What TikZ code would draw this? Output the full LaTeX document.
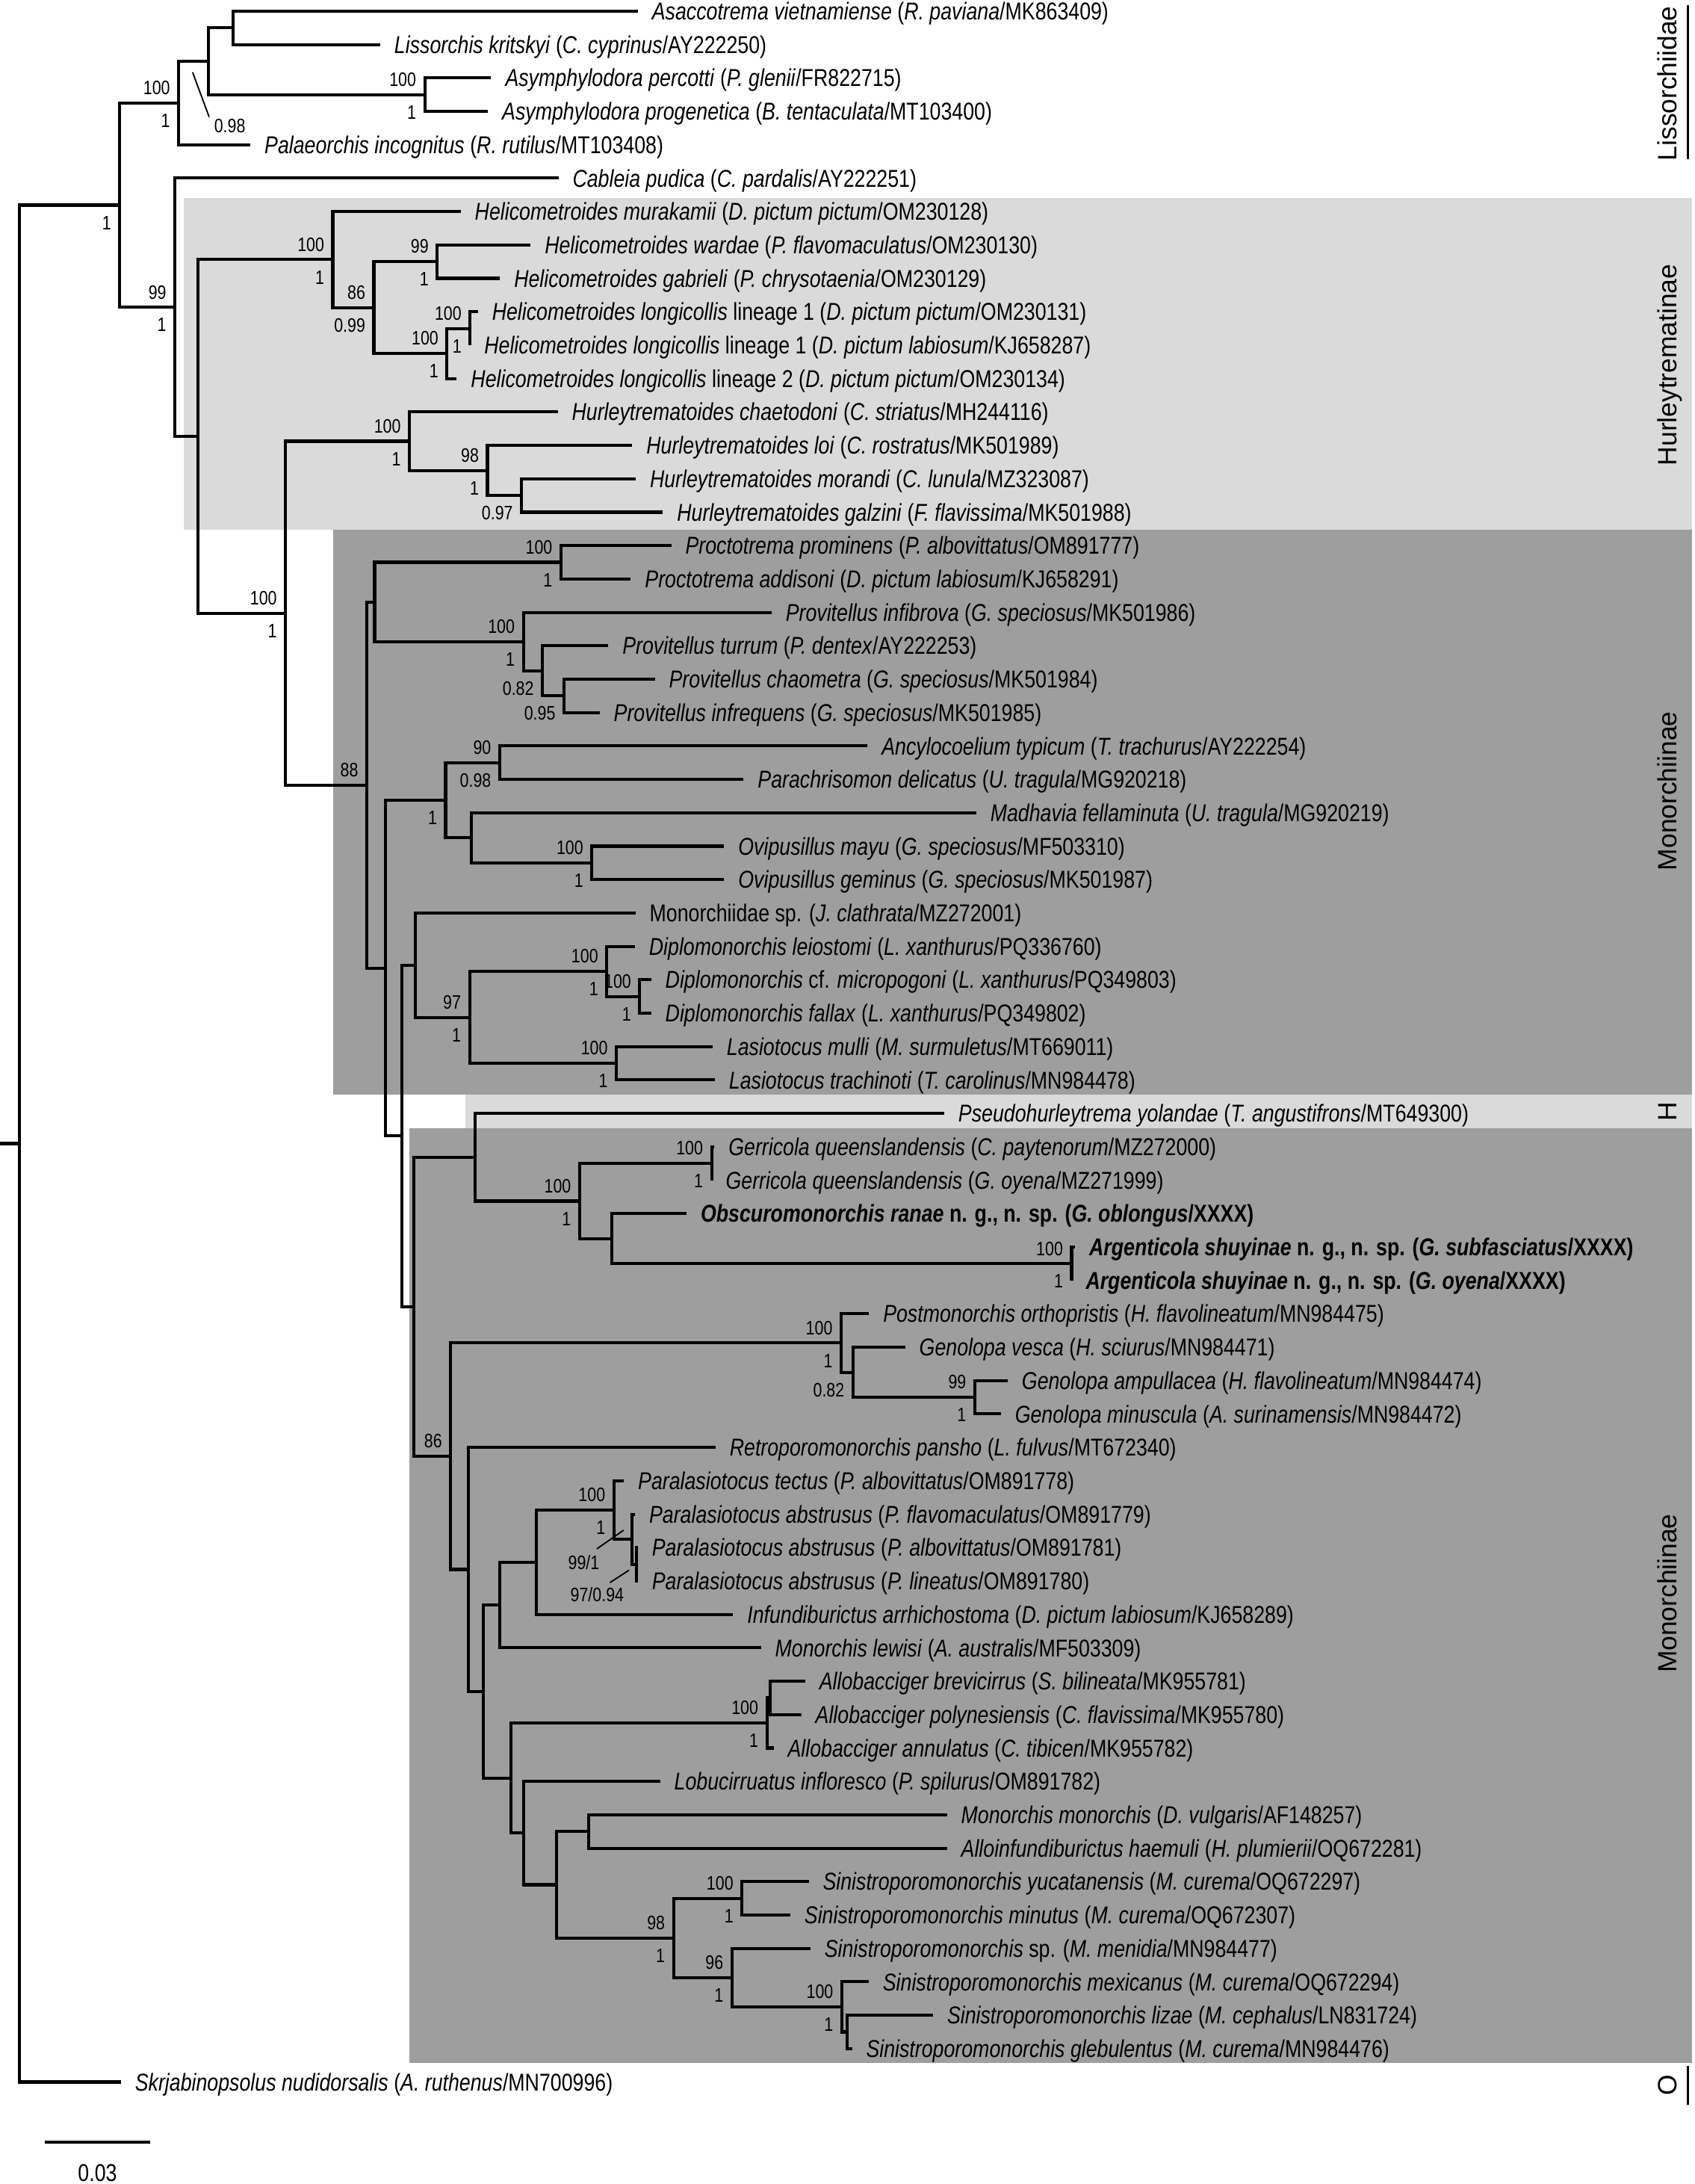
\documentclass[tikz,border=0pt]{standalone}
\usepackage{fontspec}
\setmainfont{Liberation Sans}[FakeStretch=0.82]
\newfontfamily\cladefont{Liberation Sans}
\definecolor{lightg}{RGB}{218,218,218}
\definecolor{darkg}{RGB}{158,158,158}
\begin{document}
\begin{tikzpicture}[x=1pt,y=-1pt,
  br/.style={line width=2.2pt, line join=miter},
  leaf/.style={anchor=west, inner sep=0pt, text height=12.5pt, text depth=0pt, font=\fontsize{17.5}{17.5}\selectfont},
  bs/.style={anchor=base east, inner sep=0pt, xshift=-6pt, yshift=6pt, font=\fontsize{14}{14}\selectfont},
  pp/.style={anchor=base east, inner sep=0pt, xshift=-6pt, yshift=-17.5pt, font=\fontsize{14}{14}\selectfont},
  freelab/.style={anchor=center, inner sep=0pt, font=\fontsize{14}{14}\selectfont},
  clade/.style={rotate=90, inner sep=0pt, text height=13.7pt, text depth=0pt, font=\cladefont\fontsize{19}{19}\selectfont},
  lead/.style={line width=1pt},
  cbar/.style={line width=2pt}]
\useasboundingbox (0,0) rectangle (1217,1568);
% backgrounds
\fill[lightg] (132,142) rectangle (1215,380.5);
\fill[darkg] (239.5,380.5) rectangle (1215,786);
\fill[lightg] (334,786) rectangle (1215,810);
\fill[darkg] (294,810) rectangle (1215,1481);

% internal nodes
\coordinate (nR) at (14,821);
\coordinate (root0) at (0,821);
\coordinate (nA) at (86,147.27);
\coordinate (nL) at (128.3,73.95);
\coordinate (nM1) at (149.5,43.97);
\coordinate (nN1) at (167.4,19.99);
\coordinate (nAsym) at (305,67.95);
\coordinate (nB) at (125.6,220.58);
\coordinate (nC) at (142,313.26);
\coordinate (nHel) at (239,186.35);
\coordinate (nHelA) at (268.5,220.83);
\coordinate (nHelB) at (314,187.85);
\coordinate (nHelC) at (321,253.8);
\coordinate (nHelD) at (337.6,235.81);
\coordinate (nD2) at (205,440.17);
\coordinate (nHur) at (294,316.74);
\coordinate (nHurA) at (350,337.73);
\coordinate (nHurB) at (374.5,355.71);
\coordinate (nMon1) at (263.4,563.6);
\coordinate (nMon1a) at (269,432.15);
\coordinate (nProcto) at (402.8,403.67);
\coordinate (nProvA) at (375.8,460.62);
\coordinate (nProvB) at (389.5,481.6);
\coordinate (nProvC) at (405,499.59);
\coordinate (nMonB) at (276.7,695.04);
\coordinate (nAncOv) at (320,574.53);
\coordinate (nAncPar) at (358.8,547.55);
\coordinate (nOvMad) at (338.3,601.5);
\coordinate (nOvip) at (425,619.49);
\coordinate (nE) at (288.6,815.55);
\coordinate (nDipMon) at (298.3,692.93);
\coordinate (nDipLas) at (337.2,730.4);
\coordinate (nDip) at (435.7,697.43);
\coordinate (nDipB) at (459.4,715.41);
\coordinate (nLas) at (442.6,763.37);
\coordinate (nF) at (297,938.16);
\coordinate (nPsG) at (341.3,830.82);
\coordinate (nGOA) at (416.2,862.29);
\coordinate (nGerr) at (511,835.31);
\coordinate (nOA) at (439.4,889.27);
\coordinate (nArg) at (769.5,907.25);
\coordinate (nG) at (323.6,1045.49);
\coordinate (nPG) at (604,964.2);
\coordinate (nGen) at (612.5,985.19);
\coordinate (nGenB) at (700,1003.17);
\coordinate (nH) at (336.3,1126.78);
\coordinate (nI) at (347.2,1214.41);
\coordinate (nJ) at (359,1152.3);
\coordinate (nPI) at (385.3,1121.57);
\coordinate (nPar) at (440.8,1084.1);
\coordinate (nParB) at (454,1105.09);
\coordinate (nParC) at (457,1123.07);
\coordinate (nK) at (367,1276.51);
\coordinate (nAllo) at (550.7,1236.98);
\coordinate (nAlloB) at (553.1,1218.99);
\coordinate (nL2) at (376,1316.04);
\coordinate (nM) at (399.4,1353.13);
\coordinate (nMA) at (422.6,1314.91);
\coordinate (nSin) at (483.7,1391.35);
\coordinate (nSinA) at (532.8,1362.87);
\coordinate (nSinB) at (525.6,1419.83);
\coordinate (nSinC) at (604.5,1440.81);
\coordinate (nSinD) at (608.2,1458.79);

% leaves
\node[leaf] (t1) at (468,8.0) {\textit{Asaccotrema vietnamiense} (\textit{R. paviana}/MK863409)};
\node[leaf] (t2) at (283,31.98) {\textit{Lissorchis kritskyi} (\textit{C. cyprinus}/AY222250)};
\node[leaf] (t3) at (362.7,55.96) {\textit{Asymphylodora percotti} (\textit{P. glenii}/FR822715)};
\node[leaf] (t4) at (360.4,79.94) {\textit{Asymphylodora progenetica} (\textit{B. tentaculata}/MT103400)};
\node[leaf] (t5) at (189.8,103.92) {\textit{Palaeorchis incognitus} (\textit{R. rutilus}/MT103408)};
\node[leaf] (t6) at (411,127.9) {\textit{Cableia pudica} (\textit{C. pardalis}/AY222251)};
\node[leaf] (t7) at (340.8,151.88) {\textit{Helicometroides murakamii} (\textit{D. pictum pictum}/OM230128)};
\node[leaf] (t8) at (391,175.86) {\textit{Helicometroides wardae} (\textit{P. flavomaculatus}/OM230130)};
\node[leaf] (t9) at (369,199.84) {\textit{Helicometroides gabrieli} (\textit{P. chrysotaenia}/OM230129)};
\node[leaf] (t10) at (353.2,223.82) {\textit{Helicometroides longicollis} lineage 1 (\textit{D. pictum pictum}/OM230131)};
\node[leaf] (t11) at (347.6,247.8) {\textit{Helicometroides longicollis} lineage 1 (\textit{D. pictum labiosum}/KJ658287)};
\node[leaf] (t12) at (338,271.78) {\textit{Helicometroides longicollis} lineage 2 (\textit{D. pictum pictum}/OM230134)};
\node[leaf] (t13) at (410.5,295.76) {\textit{Hurleytrematoides chaetodoni} (\textit{C. striatus}/MH244116)};
\node[leaf] (t14) at (464,319.74) {\textit{Hurleytrematoides loi} (\textit{C. rostratus}/MK501989)};
\node[leaf] (t15) at (466.5,343.72) {\textit{Hurleytrematoides morandi} (\textit{C. lunula}/MZ323087)};
\node[leaf] (t16) at (486,367.7) {\textit{Hurleytrematoides galzini} (\textit{F. flavissima}/MK501988)};
\node[leaf] (t17) at (492,391.68) {\textit{Proctotrema prominens} (\textit{P. albovittatus}/OM891777)};
\node[leaf] (t18) at (463,415.66) {\textit{Proctotrema addisoni} (\textit{D. pictum labiosum}/KJ658291)};
\node[leaf] (t19) at (564,439.64) {\textit{Provitellus infibrova} (\textit{G. speciosus}/MK501986)};
\node[leaf] (t20) at (446.8,463.62) {\textit{Provitellus turrum} (\textit{P. dentex}/AY222253)};
\node[leaf] (t21) at (480.2,487.6) {\textit{Provitellus chaometra} (\textit{G. speciosus}/MK501984)};
\node[leaf] (t22) at (440.6,511.58) {\textit{Provitellus infrequens} (\textit{G. speciosus}/MK501985)};
\node[leaf] (t23) at (633,535.56) {\textit{Ancylocoelium typicum} (\textit{T. trachurus}/AY222254)};
\node[leaf] (t24) at (544,559.54) {\textit{Parachrisomon delicatus} (\textit{U. tragula}/MG920218)};
\node[leaf] (t25) at (711,583.52) {\textit{Madhavia fellaminuta} (\textit{U. tragula}/MG920219)};
\node[leaf] (t26) at (530,607.5) {\textit{Ovipusillus mayu} (\textit{G. speciosus}/MF503310)};
\node[leaf] (t27) at (530,631.48) {\textit{Ovipusillus geminus} (\textit{G. speciosus}/MK501987)};
\node[leaf] (t28) at (466.3,655.46) {Monorchiidae sp. (\textit{J. clathrata}/MZ272001)};
\node[leaf] (t29) at (465.9,679.44) {\textit{Diplomonorchis leiostomi} (\textit{L. xanthurus}/PQ336760)};
\node[leaf] (t30) at (477.6,703.42) {\textit{Diplomonorchis} cf. \textit{micropogoni} (\textit{L. xanthurus}/PQ349803)};
\node[leaf] (t31) at (477.6,727.4) {\textit{Diplomonorchis fallax} (\textit{L. xanthurus}/PQ349802)};
\node[leaf] (t32) at (521.7,751.38) {\textit{Lasiotocus mulli} (\textit{M. surmuletus}/MT669011)};
\node[leaf] (t33) at (523.3,775.36) {\textit{Lasiotocus trachinoti} (\textit{T. carolinus}/MN984478)};
\node[leaf] (t34) at (688,799.34) {\textit{Pseudohurleytrema yolandae} (\textit{T. angustifrons}/MT649300)};
\node[leaf] (t35) at (523,823.32) {\textit{Gerricola queenslandensis} (\textit{C. paytenorum}/MZ272000)};
\node[leaf] (t36) at (521,847.3) {\textit{Gerricola queenslandensis} (\textit{G. oyena}/MZ271999)};
\node[leaf] (t37) at (503,871.28) {\textbf{\textit{Obscuromonorchis ranae} n. g., n. sp. (\textit{G. oblongus}/XXXX)}};
\node[leaf] (t38) at (782,895.26) {\textbf{\textit{Argenticola shuyinae} n. g., n. sp. (\textit{G. subfasciatus}/XXXX)}};
\node[leaf] (t39) at (779.5,919.24) {\textbf{\textit{Argenticola shuyinae} n. g., n. sp. (\textit{G. oyena}/XXXX)}};
\node[leaf] (t40) at (634,943.22) {\textit{Postmonorchis orthopristis} (\textit{H. flavolineatum}/MN984475)};
\node[leaf] (t41) at (660,967.2) {\textit{Genolopa vesca} (\textit{H. sciurus}/MN984471)};
\node[leaf] (t42) at (733.6,991.18) {\textit{Genolopa ampullacea} (\textit{H. flavolineatum}/MN984474)};
\node[leaf] (t43) at (728.7,1015.16) {\textit{Genolopa minuscula} (\textit{A. surinamensis}/MN984472)};
\node[leaf] (t44) at (523.8,1039.14) {\textit{Retroporomonorchis pansho} (\textit{L. fulvus}/MT672340)};
\node[leaf] (t45) at (458,1063.12) {\textit{Paralasiotocus tectus} (\textit{P. albovittatus}/OM891778)};
\node[leaf] (t46) at (466,1087.1) {\textit{Paralasiotocus abstrusus} (\textit{P. flavomaculatus}/OM891779)};
\node[leaf] (t47) at (468,1111.08) {\textit{Paralasiotocus abstrusus} (\textit{P. albovittatus}/OM891781)};
\node[leaf] (t48) at (468,1135.06) {\textit{Paralasiotocus abstrusus} (\textit{P. lineatus}/OM891780)};
\node[leaf] (t49) at (536.4,1159.04) {\textit{Infundiburictus arrhichostoma} (\textit{D. pictum labiosum}/KJ658289)};
\node[leaf] (t50) at (556.4,1183.02) {\textit{Monorchis lewisi} (\textit{A. australis}/MF503309)};
\node[leaf] (t51) at (588.2,1207.0) {\textit{Allobacciger brevicirrus} (\textit{S. bilineata}/MK955781)};
\node[leaf] (t52) at (585.4,1230.98) {\textit{Allobacciger polynesiensis} (\textit{C. flavissima}/MK955780)};
\node[leaf] (t53) at (565.5,1254.96) {\textit{Allobacciger annulatus} (\textit{C. tibicen}/MK955782)};
\node[leaf] (t54) at (484,1278.94) {\textit{Lobucirruatus infloresco} (\textit{P. spilurus}/OM891782)};
\node[leaf] (t55) at (690,1302.92) {\textit{Monorchis monorchis} (\textit{D. vulgaris}/AF148257)};
\node[leaf] (t56) at (690,1326.9) {\textit{Alloinfundiburictus haemuli} (\textit{H. plumierii}/OQ672281)};
\node[leaf] (t57) at (590.7,1350.88) {\textit{Sinistroporomonorchis yucatanensis} (\textit{M. curema}/OQ672297)};
\node[leaf] (t58) at (577.5,1374.86) {\textit{Sinistroporomonorchis minutus} (\textit{M. curema}/OQ672307)};
\node[leaf] (t59) at (591.9,1398.84) {\textit{Sinistroporomonorchis} sp. (\textit{M. menidia}/MN984477)};
\node[leaf] (t60) at (633.8,1422.82) {\textit{Sinistroporomonorchis mexicanus} (\textit{M. curema}/OQ672294)};
\node[leaf] (t61) at (680,1446.8) {\textit{Sinistroporomonorchis lizae} (\textit{M. cephalus}/LN831724)};
\node[leaf] (t62) at (621.8,1470.78) {\textit{Sinistroporomonorchis glebulentus} (\textit{M. curema}/MN984476)};
\node[leaf] (t63) at (96.8,1494.76) {\textit{Skrjabinopsolus nudidorsalis} (\textit{A. ruthenus}/MN700996)};

% branches
\tikzset{tip/.style={xshift=-10pt}}
\draw[br] (root0) -- (nR);
\draw[br] (nR) |- (nA);
\draw[br] (nR) |- ([tip]t63.west);
\draw[br] (nA) |- (nL);
\draw[br] (nA) |- (nB);
\draw[br] (nL) |- (nM1);
\draw[br] (nL) |- ([tip]t5.west);
\draw[br] (nM1) |- (nN1);
\draw[br] (nM1) |- (nAsym);
\draw[br] (nN1) |- ([tip]t1.west);
\draw[br] (nN1) |- ([tip]t2.west);
\draw[br] (nAsym) |- ([tip]t3.west);
\draw[br] (nAsym) |- ([tip]t4.west);
\draw[br] (nB) |- ([tip]t6.west);
\draw[br] (nB) |- (nC);
\draw[br] (nC) |- (nHel);
\draw[br] (nC) |- (nD2);
\draw[br] (nHel) |- ([tip]t7.west);
\draw[br] (nHel) |- (nHelA);
\draw[br] (nHelA) |- (nHelB);
\draw[br] (nHelA) |- (nHelC);
\draw[br] (nHelB) |- ([tip]t8.west);
\draw[br] (nHelB) |- ([tip]t9.west);
\draw[br] (nHelC) |- (nHelD);
\draw[br] (nHelC) |- ([tip]t12.west);
\draw[br] (nHelD) |- ([tip]t10.west);
\draw[br] (nHelD) |- ([tip]t11.west);
\draw[br] (nD2) |- (nHur);
\draw[br] (nD2) |- (nMon1);
\draw[br] (nHur) |- ([tip]t13.west);
\draw[br] (nHur) |- (nHurA);
\draw[br] (nHurA) |- ([tip]t14.west);
\draw[br] (nHurA) |- (nHurB);
\draw[br] (nHurB) |- ([tip]t15.west);
\draw[br] (nHurB) |- ([tip]t16.west);
\draw[br] (nMon1) |- (nMon1a);
\draw[br] (nMon1) |- (nMonB);
\draw[br] (nMon1a) |- (nProcto);
\draw[br] (nMon1a) |- (nProvA);
\draw[br] (nProcto) |- ([tip]t17.west);
\draw[br] (nProcto) |- ([tip]t18.west);
\draw[br] (nProvA) |- ([tip]t19.west);
\draw[br] (nProvA) |- (nProvB);
\draw[br] (nProvB) |- ([tip]t20.west);
\draw[br] (nProvB) |- (nProvC);
\draw[br] (nProvC) |- ([tip]t21.west);
\draw[br] (nProvC) |- ([tip]t22.west);
\draw[br] (nMonB) |- (nAncOv);
\draw[br] (nMonB) |- (nE);
\draw[br] (nAncOv) |- (nAncPar);
\draw[br] (nAncOv) |- (nOvMad);
\draw[br] (nAncPar) |- ([tip]t23.west);
\draw[br] (nAncPar) |- ([tip]t24.west);
\draw[br] (nOvMad) |- ([tip]t25.west);
\draw[br] (nOvMad) |- (nOvip);
\draw[br] (nOvip) |- ([tip]t26.west);
\draw[br] (nOvip) |- ([tip]t27.west);
\draw[br] (nE) |- (nDipMon);
\draw[br] (nE) |- (nF);
\draw[br] (nDipMon) |- ([tip]t28.west);
\draw[br] (nDipMon) |- (nDipLas);
\draw[br] (nDipLas) |- (nDip);
\draw[br] (nDipLas) |- (nLas);
\draw[br] (nDip) |- ([tip]t29.west);
\draw[br] (nDip) |- (nDipB);
\draw[br] (nDipB) |- ([tip]t30.west);
\draw[br] (nDipB) |- ([tip]t31.west);
\draw[br] (nLas) |- ([tip]t32.west);
\draw[br] (nLas) |- ([tip]t33.west);
\draw[br] (nF) |- (nPsG);
\draw[br] (nF) |- (nG);
\draw[br] (nPsG) |- ([tip]t34.west);
\draw[br] (nPsG) |- (nGOA);
\draw[br] (nGOA) |- (nGerr);
\draw[br] (nGOA) |- (nOA);
\draw[br] (nGerr) |- ([tip]t35.west);
\draw[br] (nGerr) |- ([tip]t36.west);
\draw[br] (nOA) |- ([tip]t37.west);
\draw[br] (nOA) |- (nArg);
\draw[br] (nArg) |- ([tip]t38.west);
\draw[br] (nArg) |- ([tip]t39.west);
\draw[br] (nG) |- (nPG);
\draw[br] (nG) |- (nH);
\draw[br] (nPG) |- ([tip]t40.west);
\draw[br] (nPG) |- (nGen);
\draw[br] (nGen) |- ([tip]t41.west);
\draw[br] (nGen) |- (nGenB);
\draw[br] (nGenB) |- ([tip]t42.west);
\draw[br] (nGenB) |- ([tip]t43.west);
\draw[br] (nH) |- ([tip]t44.west);
\draw[br] (nH) |- (nI);
\draw[br] (nI) |- (nJ);
\draw[br] (nI) |- (nK);
\draw[br] (nJ) |- (nPI);
\draw[br] (nJ) |- ([tip]t50.west);
\draw[br] (nPI) |- (nPar);
\draw[br] (nPI) |- ([tip]t49.west);
\draw[br] (nPar) |- ([tip]t45.west);
\draw[br] (nPar) |- (nParB);
\draw[br] (nParB) |- ([tip]t46.west);
\draw[br] (nParB) |- (nParC);
\draw[br] (nParC) |- ([tip]t47.west);
\draw[br] (nParC) |- ([tip]t48.west);
\draw[br] (nK) |- (nAllo);
\draw[br] (nK) |- (nL2);
\draw[br] (nAllo) |- (nAlloB);
\draw[br] (nAllo) |- ([tip]t53.west);
\draw[br] (nAlloB) |- ([tip]t51.west);
\draw[br] (nAlloB) |- ([tip]t52.west);
\draw[br] (nL2) |- ([tip]t54.west);
\draw[br] (nL2) |- (nM);
\draw[br] (nM) |- (nMA);
\draw[br] (nM) |- (nSin);
\draw[br] (nMA) |- ([tip]t55.west);
\draw[br] (nMA) |- ([tip]t56.west);
\draw[br] (nSin) |- (nSinA);
\draw[br] (nSin) |- (nSinB);
\draw[br] (nSinA) |- ([tip]t57.west);
\draw[br] (nSinA) |- ([tip]t58.west);
\draw[br] (nSinB) |- ([tip]t59.west);
\draw[br] (nSinB) |- (nSinC);
\draw[br] (nSinC) |- ([tip]t60.west);
\draw[br] (nSinC) |- (nSinD);
\draw[br] (nSinD) |- ([tip]t61.west);
\draw[br] (nSinD) |- ([tip]t62.west);

% support values
\node[bs] at (nL) {100}; \node[pp] at (nL) {1};
\node[bs] at (nAsym) {100}; \node[pp] at (nAsym) {1};
\node[pp] at (nA) {1};
\node[bs] at (nB) {99}; \node[pp] at (nB) {1};
\node[bs] at (nHel) {100}; \node[pp] at (nHel) {1};
\node[bs] at (nHelA) {86}; \node[pp] at (nHelA) {0.99};
\node[bs] at (nHelB) {99}; \node[pp] at (nHelB) {1};
\node[bs] at (nHelC) {100}; \node[pp] at (nHelC) {1};
\node[bs] at (nHelD) {100}; \node[pp] at (nHelD) {1};
\node[bs] at (nD2) {100}; \node[pp] at (nD2) {1};
\node[bs] at (nHur) {100}; \node[pp] at (nHur) {1};
\node[bs] at (nHurA) {98}; \node[pp] at (nHurA) {1};
\node[pp] at (nHurB) {0.97};
\node[bs] at (nMon1) {88};
\node[bs] at (nProcto) {100}; \node[pp] at (nProcto) {1};
\node[bs] at (nProvA) {100}; \node[pp] at (nProvA) {1};
\node[pp] at (nProvB) {0.82};
\node[pp] at (nProvC) {0.95};
\node[pp] at (nAncOv) {1};
\node[bs] at (nAncPar) {90}; \node[pp] at (nAncPar) {0.98};
\node[bs] at (nOvip) {100}; \node[pp] at (nOvip) {1};
\node[bs] at (nDipLas) {97}; \node[pp] at (nDipLas) {1};
\node[bs] at (nDip) {100}; \node[pp] at (nDip) {1};
\node[bs] at (nDipB) {100}; \node[pp] at (nDipB) {1};
\node[bs] at (nLas) {100}; \node[pp] at (nLas) {1};
\node[bs] at (nGOA) {100}; \node[pp] at (nGOA) {1};
\node[bs] at (nGerr) {100}; \node[pp] at (nGerr) {1};
\node[bs] at (nArg) {100}; \node[pp] at (nArg) {1};
\node[bs] at (nG) {86};
\node[bs] at (nPG) {100}; \node[pp] at (nPG) {1};
\node[pp] at (nGen) {0.82};
\node[bs] at (nGenB) {99}; \node[pp] at (nGenB) {1};
\node[bs] at (nPar) {100}; \node[pp] at (nPar) {1};
\node[bs] at (nAllo) {100}; \node[pp] at (nAllo) {1};
\node[bs] at (nSin) {98}; \node[pp] at (nSin) {1};
\node[bs] at (nSinA) {100}; \node[pp] at (nSinA) {1};
\node[bs] at (nSinB) {96}; \node[pp] at (nSinB) {1};
\node[bs] at (nSinC) {100}; \node[pp] at (nSinC) {1};
% support values with leader lines
\node[freelab] (l098) at (165,90.3) {0.98};
\coordinate (l098a) at (138.3,51.9);
\coordinate (l098b) at (150.2,84);
\draw[lead] (l098a) -- (l098b);
\node[freelab] (l991) at (419.2,1122) {99/1};
\coordinate (l991a) at (428.6,1112);
\coordinate (l991b) at (447.8,1098.6);
\draw[lead] (l991a) -- (l991b);
\node[freelab] (l97) at (428.8,1144.7) {97/0.94};
\coordinate (l97a) at (438,1136.2);
\coordinate (l97b) at (451.7,1127.3);
\draw[lead] (l97a) -- (l97b);

% clade labels
\node[clade] (cLis) at (1197,60) {Lissorchiidae};
\coordinate (bLis1) at (1212,4);
\coordinate (bLis2) at (1212,114);
\draw[cbar] (bLis1) -- (bLis2);
\node[clade] (cHur) at (1197,262) {Hurleytrematinae};
\node[clade] (cMon1) at (1197,568) {Monorchiinae};
\node[clade] (cH) at (1197,798) {H};
\node[clade] (cMon2) at (1197,1144) {Monorchiinae};
\node[clade] (cO) at (1197,1497) {O};
\coordinate (bO1) at (1212,1483);
\coordinate (bO2) at (1212,1511);
\draw[cbar] (bO1) -- (bO2);

% scale bar
\coordinate (sb1) at (32,1538);
\coordinate (sb2) at (107.6,1538);
\draw[br] (sb1) -- (sb2);
\node[anchor=center, inner sep=0pt, font=\fontsize{17.5}{17.5}\selectfont] (sbl) at (70,1560) {0.03};
\end{tikzpicture}
\end{document}
